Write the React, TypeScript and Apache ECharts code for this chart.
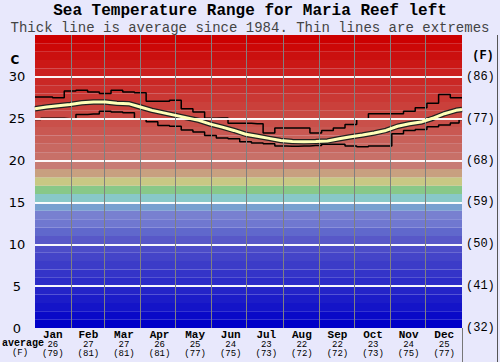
import React, { useEffect, useRef } from 'react';
import * as echarts from 'echarts';

// day of year for each sample
const days = [0, 10, 20, 30, 40, 50, 60, 70, 80, 90, 100, 110, 120, 130, 140, 150, 160, 170, 180, 190, 200, 210, 220, 230, 240, 250, 260, 270, 280, 290, 300, 310, 320, 330, 340, 350, 360, 365];

const avgTemp = [26.2, 26.4, 26.55, 26.7, 26.9, 27.0, 27.0, 26.85, 26.8, 26.4, 26.0, 25.7, 25.4, 25.1, 24.8, 24.35, 24.0, 23.6, 23.15, 22.9, 22.65, 22.4, 22.28, 22.25, 22.28, 22.35, 22.6, 22.85, 23.05, 23.3, 23.6, 24.1, 24.4, 24.6, 25.05, 25.6, 26.0, 26.1];

const maxTemp = [27.6, 27.6, 27.5, 28.3, 28.4, 28.2, 28.0, 28.4, 28.2, 28.1, 27.1, 27.1, 27.2, 26.2, 25.8, 25.05, 25.1, 24.45, 24.45, 24.4, 23.3, 23.9, 23.9, 23.9, 23.3, 23.6, 23.9, 24.3, 25.0, 25.6, 25.6, 25.6, 25.9, 26.3, 26.85, 27.9, 27.5, 27.5];

const minTemp = [24.9, 25.05, 25.05, 25.0, 25.5, 25.55, 25.9, 25.8, 25.7, 25.0, 24.65, 24.2, 24.1, 23.65, 23.4, 23.0, 22.7, 22.6, 22.25, 22.1, 22.0, 21.75, 21.7, 21.75, 21.8, 21.95, 21.95, 21.75, 21.65, 21.75, 21.75, 23.2, 23.6, 23.7, 24.05, 24.25, 24.5, 24.9];

const months = ['Jan', 'Feb', 'Mar', 'Apr', 'May', 'Jun', 'Jul', 'Aug', 'Sep', 'Oct', 'Nov', 'Dec'];
const monthAvgC = [26, 27, 27, 26, 25, 24, 23, 22, 22, 23, 24, 25];
const monthAvgF = [79, 81, 81, 81, 77, 75, 73, 72, 72, 73, 75, 77];
const monthStarts = [31, 59, 90, 120, 151, 181, 212, 243, 273, 304, 334];
const gridTemps = [5, 10, 15, 20, 25, 30];

// one colour band per degree C, from 0 upward
const bandColors = [
  '#0000c8', '#0a0ac8', '#1414c8', '#1c1cc8', '#2424c8', '#2c2cc8', '#3434c8', '#3c3cc8', '#4444c8', '#4c4cc8',
  '#5858c8', '#6068cc', '#7078d0', '#7880d0', '#78a0d0', '#88c8c8', '#88c888', '#c8c884', '#c8a080', '#c87c74',
  '#c87068', '#c86861', '#c86059', '#c95852', '#c9504a', '#c94843', '#ca403b', '#ca3834', '#ca302d', '#ca2825',
  '#cb201e', '#cb1816', '#cb100f', '#cc0807', '#cc0000',
];

const mono = 'Liberation Mono';

export default function App() {
  const ref = useRef<HTMLDivElement>(null);
  useEffect(() => {
    document.body.style.margin = '0';
    const chart = echarts.init(ref.current!, null, { renderer: 'svg' });
    const pts = (vals: number[]) => days.map((d, i) => [d, vals[i]]);
    chart.setOption({
      animation: false,
      backgroundColor: '#e8e8fc',
      grid: { left: 35, right: 38, top: 35, bottom: 34 },
      xAxis: [
        { type: 'value', min: 0, max: 365, show: false },
        {
          type: 'category',
          data: months,
          position: 'bottom',
          boundaryGap: true,
          axisLine: { show: false },
          axisTick: { show: false },
          splitLine: { show: false },
          axisLabel: {
            interval: 0,
            margin: 2,
            formatter: (v: string, i: number) => `{m|${v}}\n{v|${monthAvgC[i]}}\n{v|(${monthAvgF[i]})}`,
            rich: {
              m: { fontFamily: mono, fontWeight: 'bold', fontSize: 11, lineHeight: 10, color: '#000' },
              v: { fontFamily: mono, fontSize: 9, lineHeight: 9, color: '#000' },
            },
          },
        },
      ],
      yAxis: [
        {
          type: 'value',
          min: 0,
          max: 35,
          interval: 5,
          position: 'left',
          axisLine: { show: false },
          axisTick: { show: false },
          splitLine: { show: false },
          axisLabel: {
            margin: 18,
            align: 'center',
            fontFamily: 'DejaVu Sans',
            fontSize: 13,
            color: '#000',
            formatter: (v: number) => (v === 35 ? '' : String(v)),
          },
        },
        {
          type: 'value',
          min: 0,
          max: 35,
          interval: 5,
          position: 'right',
          axisLine: { show: false },
          axisTick: { show: false },
          splitLine: { show: false },
          axisLabel: {
            margin: 4,
            fontFamily: mono,
            fontSize: 12,
            color: '#000',
            formatter: (v: number) => (v === 35 ? '' : `(${Math.round((v * 9) / 5 + 32)})`),
          },
        },
      ],
      graphic: [
        {
          type: 'text',
          x: 250,
          y: 10.5,
          style: {
            text: 'Sea Temperature Range for Maria Reef left',
            font: 'bold 16px "Liberation Mono"',
            lineHeight: 16,
            fill: '#000',
            align: 'center',
            verticalAlign: 'middle',
          },
        },
        {
          type: 'text',
          x: 250,
          y: 27.5,
          style: {
            text: 'Thick line is average since 1984. Thin lines are extremes',
            font: '14px "Liberation Mono"',
            lineHeight: 14,
            fill: '#444',
            align: 'center',
            verticalAlign: 'middle',
          },
        },
        { type: 'text', x: 15, y: 60, style: { text: 'C', font: 'bold 12px "DejaVu Sans"', fill: '#000', align: 'center', verticalAlign: 'middle' } },
        { type: 'text', x: 483, y: 56, style: { text: '(F)', font: 'bold 12px "Liberation Mono"', fill: '#000', align: 'center', verticalAlign: 'middle' } },
        { type: 'text', x: 2, y: 343, style: { text: 'average', font: 'bold 10px "Liberation Mono"', fill: '#000', verticalAlign: 'middle' } },
        { type: 'text', x: 20, y: 353, style: { text: '(F)', font: '9px "Liberation Mono"', fill: '#000', align: 'center', verticalAlign: 'middle' } },
        { type: 'line', shape: { x1: 462.5, y1: 328, x2: 462.5, y2: 362 }, style: { stroke: '#777', lineWidth: 1 } },
        { type: 'line', shape: { x1: 497.5, y1: 35, x2: 497.5, y2: 362 }, style: { stroke: '#555', lineWidth: 1 } },
      ],
      series: [
        {
          type: 'line',
          data: [],
          z: 1,
          silent: true,
          markArea: {
            silent: true,
            data: bandColors.map((c, i) => [{ yAxis: i, itemStyle: { color: c } }, { yAxis: i + 1 }]),
          },
        },
        {
          type: 'line',
          data: [],
          z: 2,
          silent: true,
          markLine: {
            silent: true,
            symbol: ['none', 'none'],
            label: { show: false },
            data: [
              ...gridTemps.map((t) => ({ yAxis: t, lineStyle: { color: 'rgba(255,255,255,0.95)', width: 2, type: 'solid' } })),
              ...monthStarts.map((d) => ({ xAxis: d, lineStyle: { color: '#808080', width: 1, type: 'solid' } })),
            ],
          },
        },
        {
          type: 'line',
          data: pts(maxTemp),
          step: 'middle',
          showSymbol: false,
          z: 3,
          lineStyle: { color: '#000', width: 1.5 },
        },
        {
          type: 'line',
          data: pts(minTemp),
          step: 'middle',
          showSymbol: false,
          z: 3,
          lineStyle: { color: '#000', width: 1.5 },
        },
        {
          type: 'line',
          data: pts(avgTemp),
          showSymbol: false,
          z: 4,
          lineStyle: { color: '#222', width: 5.5 },
        },
        {
          type: 'line',
          data: pts(avgTemp),
          showSymbol: false,
          z: 5,
          lineStyle: { color: '#ffffb8', width: 3 },
        },
      ],
    });
    return () => chart.dispose();
  }, []);
  return <div ref={ref} style={{ width: 500, height: 362 }} />;
}
